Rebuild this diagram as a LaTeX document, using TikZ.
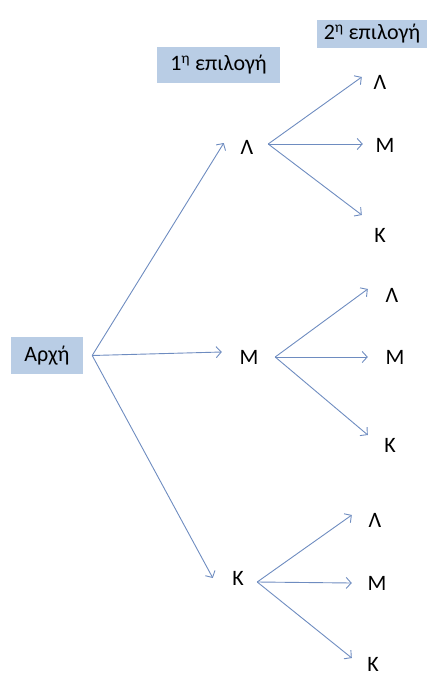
\documentclass[tikz,border=0pt]{standalone}
\usepackage{fontspec}
\setmainfont{Carlito}
\usetikzlibrary{arrows.meta}
\definecolor{branchline}{RGB}{110,140,192}
\definecolor{boxfill}{RGB}{185,205,229}
\begin{document}
\begin{tikzpicture}[x=1pt,y=-1pt,
    every node/.style={font=\fontsize{22}{25}\selectfont, inner sep=0pt},
    labelbox/.style={fill=boxfill},
    choice/.style={minimum width=46pt},
    leaf/.style={minimum width=44pt},
    branch/.style={draw=branchline, line width=0.9pt, -{Straight Barb[length=5pt,width=11pt]}}]
    \useasboundingbox (0,0) rectangle (437,677);
    % headings
    \node [labelbox, minimum width=110pt, minimum height=28pt] (second) at (372,34) {2\textsuperscript{η} επιλογή};
    \node [labelbox, minimum width=123pt, minimum height=36pt] (first) at (218.5,65) {1\textsuperscript{η} επιλογή};
    % root
    \node [labelbox, minimum width=72pt, minimum height=37pt] (start) at (47,355.5) {Αρχή};
    \coordinate (ostart) at ([xshift=9pt]start.east);
    % first choice
    \node [choice] (choiceL) at (247,147) {Λ};
    \node [choice] (choiceM) at (249,357) {Μ};
    \node [choice] (choiceK) at (238,578) {Κ};
    \coordinate (oL) at ([xshift=-2pt,yshift=3pt]choiceL.east);
    \coordinate (oM) at ([xshift=3pt]choiceM.east);
    \coordinate (oK) at ([xshift=-4pt,yshift=-4pt]choiceK.east);
    % second choice
    \node [leaf] (leafLL) at (380,82) {Λ};
    \node [leaf] (leafLM) at (385,145) {Μ};
    \node [leaf] (leafLK) at (380,235) {Κ};
    \node [leaf] (leafML) at (392,295) {Λ};
    \node [leaf] (leafMM) at (395,357) {Μ};
    \node [leaf] (leafMK) at (390,445) {Κ};
    \node [leaf] (leafKL) at (375,520) {Λ};
    \node [leaf] (leafKM) at (377,583) {Μ};
    \node [leaf] (leafKK) at (373,664) {Κ};
    % branches
    \draw [branch] (ostart) -- ([yshift=4pt]choiceL.west);
    \draw [branch] (ostart) -- ([xshift=-4pt,yshift=5pt]choiceM.west);
    \draw [branch] (ostart) -- ([xshift=-2pt]choiceK.west);
    \draw [branch] (oL) -- ([xshift=4pt,yshift=5pt]leafLL.west);
    \draw [branch] (oL) -- ([yshift=1pt]leafLM.west);
    \draw [branch] (oL) -- ([xshift=4pt,yshift=20pt]leafLK.west);
    \draw [branch] (oM) -- ([xshift=-2pt,yshift=6pt]leafML.west);
    \draw [branch] (oM) -- ([xshift=-5pt]leafMM.west);
    \draw [branch] (oM) -- ([yshift=10pt]leafMK.west);
    \draw [branch] (oK) -- ([xshift=-1pt,yshift=5pt]leafKL.west);
    \draw [branch] (oK) -- ([xshift=-3pt]leafKM.west);
    \draw [branch] (oK) -- ([xshift=1pt,yshift=6pt]leafKK.west);
\end{tikzpicture}
\end{document}
